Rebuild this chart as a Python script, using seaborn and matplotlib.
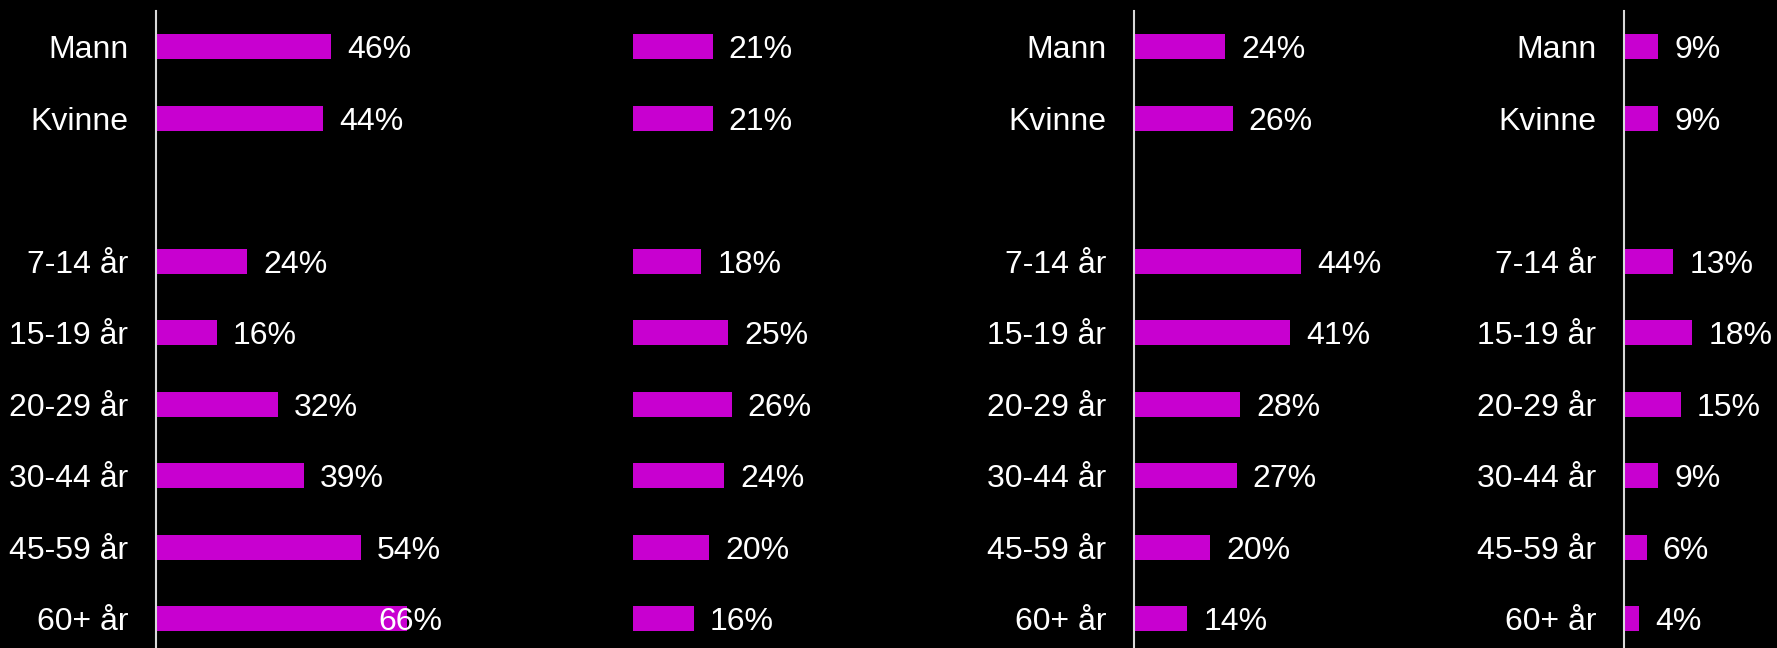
import pandas as pd
import matplotlib
matplotlib.use("Agg")
import matplotlib.pyplot as plt
import seaborn as sns

# Categories (blank row separates gender from age groups)
groups = ["Mann", "Kvinne", "7-14 år", "15-19 år", "20-29 år", "30-44 år", "45-59 år", "60+ år"]
order = ["Mann", "Kvinne", " ", "7-14 år", "15-19 år", "20-29 år", "30-44 år", "45-59 år", "60+ år"]

# Percent values per panel
panel1 = [46, 44, 24, 16, 32, 39, 54, 66]
panel2 = [21, 21, 18, 25, 26, 24, 20, 16]
panel3 = [24, 26, 44, 41, 28, 27, 20, 14]
panel4 = [9, 9, 13, 18, 15, 9, 6, 4]

bar_color = "#C800D0"
W, H = 1777, 648

sns.set_theme(style="white")
plt.rcParams["font.family"] = ["Liberation Sans", "DejaVu Sans"]

fig = plt.figure(figsize=(W / 100, H / 100), dpi=100, facecolor="black")

# (values, left px, xmax, show labels)
panels = [
    (panel1, 156, 75, True),
    (panel2, 633, 75, False),
    (panel3, 1134, 75, True),
    (panel4, 1624, 40, True),
]
px_per_pct = 3.8
fs = 23

for vals, left, xmax, show in panels:
    width_px = xmax * px_per_pct
    ax = fig.add_axes([left / W, 0, width_px / W, 1 - 11 / H])
    ax.set_facecolor("black")
    ax.patch.set_alpha(0)
    df = pd.DataFrame({"group": groups, "value": vals})
    sns.barplot(data=df, x="value", y="group", order=order, orient="h",
                color=bar_color, width=0.35, saturation=1, linewidth=0,
                edgecolor="none", ax=ax)
    ax.set_xlim(0, xmax)
    ax.set_ylim(8.41, -0.5)
    ax.set_xlabel("")
    ax.set_ylabel("")
    ax.set_xticks([])
    for s in ["top", "right", "bottom"]:
        ax.spines[s].set_visible(False)
    if show:
        ax.spines["left"].set_color("#D9D9D9")
        ax.spines["left"].set_linewidth(1.5)
        ax.tick_params(axis="y", length=0, pad=20, labelsize=fs, labelcolor="white")
    else:
        ax.spines["left"].set_visible(False)
        ax.set_yticks([])
    # value labels; kept inside the plot area like the original
    text_w = 63 / px_per_pct
    for i, g in enumerate(groups):
        v = vals[i]
        y = order.index(g)
        xl = min(v + 16 / px_per_pct, xmax - text_w)
        ax.text(xl, y, f"{v}%", color="white", fontsize=fs,
                va="center_baseline", ha="left", clip_on=False)

fig.savefig("out.png", dpi=100, facecolor="black")
